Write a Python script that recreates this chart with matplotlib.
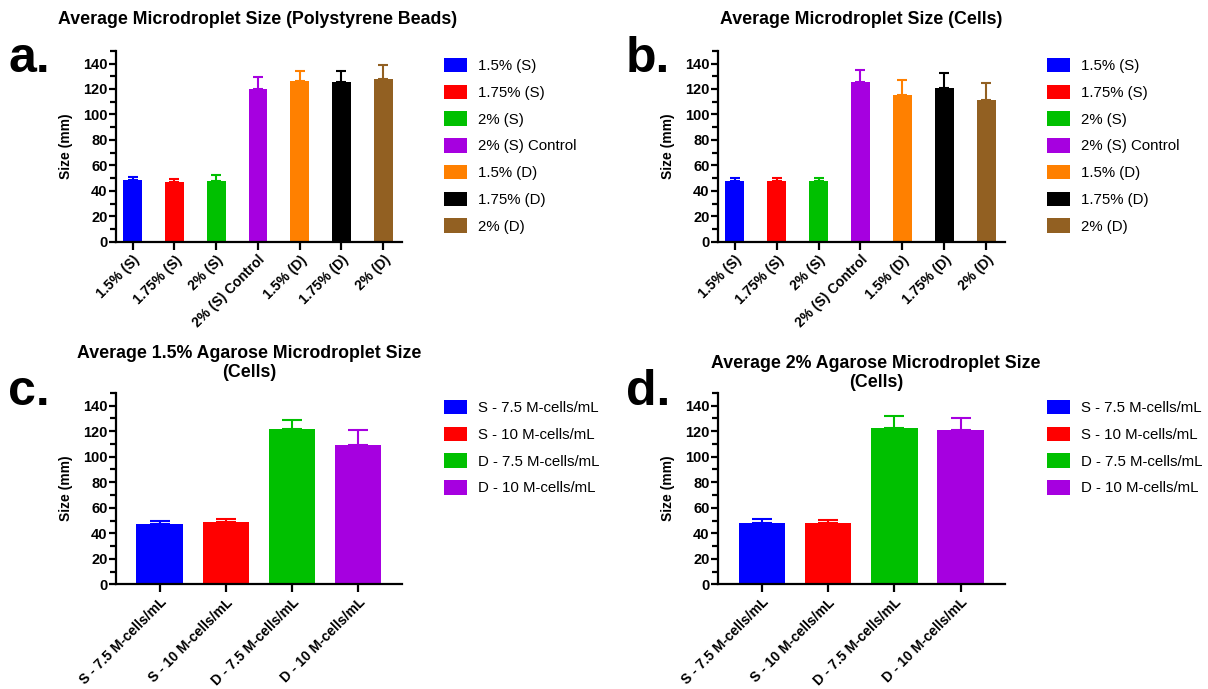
import matplotlib
matplotlib.use("Agg")
import matplotlib.pyplot as plt
from matplotlib.patches import Patch
from matplotlib.ticker import MultipleLocator

plt.rcParams['font.family'] = ['Liberation Sans', 'DejaVu Sans']

# panels a / b
labels_ab = ['1.5% (S)', '1.75% (S)', '2% (S)', '2% (S) Control',
             '1.5% (D)', '1.75% (D)', '2% (D)']
colors_ab = ['#0000FF', '#FF0000', '#00C000', '#A600E0',
             '#FF8000', '#000000', '#926022']
beads_mean = [48.5, 47.1, 48.0, 119.7, 126.0, 125.2, 127.8]
beads_err = [2.3, 2.2, 4.6, 9.9, 8.0, 9.1, 10.8]
cells_mean = [48.0, 47.7, 47.7, 125.7, 115.0, 120.5, 111.0]
cells_err = [2.3, 2.6, 2.6, 9.2, 12.0, 12.0, 14.0]

# panels c / d
labels_cd = ['S - 7.5 M-cells/mL', 'S - 10 M-cells/mL',
             'D - 7.5 M-cells/mL', 'D - 10 M-cells/mL']
colors_cd = ['#0000FF', '#FF0000', '#00C000', '#A600E0']
agarose15_mean = [47.5, 48.6, 121.7, 108.9]
agarose15_err = [2.1, 2.3, 7.1, 12.0]
agarose2_mean = [47.8, 48.3, 122.5, 120.9]
agarose2_err = [3.4, 2.1, 9.4, 9.5]

W, H = 1208, 689
fig = plt.figure(figsize=(W / 100, H / 100), dpi=100)


def px_axes(x0, x1, y0, ytop):
    return fig.add_axes([x0 / W, 1 - y0 / H, (x1 - x0) / W, (y0 - ytop) / H])


def draw_panel(ax, labels, means, errs, colors, width, capsize, xlim):
    for i, (m, e, c, lab) in enumerate(zip(means, errs, colors, labels)):
        ax.bar(i, m, width=width, color=c, label=lab, zorder=2)
        ax.errorbar(i, m, yerr=[[0], [e]], fmt='none', ecolor=c,
                    elinewidth=1.5, capsize=capsize, capthick=1.5, zorder=1)
    ax.set_xlim(*xlim)
    ax.set_ylim(0, 150)
    ax.yaxis.set_minor_locator(MultipleLocator(10))
    ax.set_yticks(range(0, 141, 20))
    ax.set_xticks(range(len(labels)))
    ax.set_xticklabels(labels, rotation=45, ha='right', va='top',
                       rotation_mode='anchor', fontweight='bold', fontsize=10)
    for t in ax.get_yticklabels():
        t.set_fontweight('bold')
        t.set_fontsize(10.5)
    for s in ['top', 'right']:
        ax.spines[s].set_visible(False)
    for s in ['left', 'bottom']:
        ax.spines[s].set_linewidth(1.6)
    ax.tick_params(which='major', direction='out', width=1.6, length=5, pad=1)
    ax.tick_params(which='minor', direction='out', width=1.6, length=4)
    ax.tick_params(axis='x', length=6, pad=2)
    ax.set_ylabel('Size (mm)', fontweight='bold', fontsize=10)
    ax.yaxis.set_label_coords(-0.15, 0.5)


def legend(labels, colors, x, ytop):
    handles = [Patch(facecolor=c, edgecolor='none') for c in colors]
    fig.legend(handles, labels, loc='upper left',
               bbox_to_anchor=(x / W, 1 - ytop / H), frameon=False,
               fontsize=10.8, handlelength=1.53, handleheight=1.1,
               handletextpad=0.73, labelspacing=0.76, borderpad=0,
               borderaxespad=0)


ax_a = px_axes(116, 402, 241.7, 50.8)
draw_panel(ax_a, labels_ab, beads_mean, beads_err, colors_ab, 0.45, 3.6, (-0.4, 6.45))
legend(labels_ab, colors_ab, 444, 58)

ax_b = px_axes(718, 1005, 241.7, 50.8)
draw_panel(ax_b, labels_ab, cells_mean, cells_err, colors_ab, 0.45, 3.6, (-0.4, 6.45))
legend(labels_ab, colors_ab, 1047, 58)

ax_c = px_axes(116, 402, 584.3, 392.9)
draw_panel(ax_c, labels_cd, agarose15_mean, agarose15_err, colors_cd, 0.70, 7.2, (-0.66, 3.67))
legend(labels_cd, colors_cd, 444, 400)

ax_d = px_axes(718, 1005, 584.3, 392.9)
draw_panel(ax_d, labels_cd, agarose2_mean, agarose2_err, colors_cd, 0.70, 7.2, (-0.66, 3.67))
legend(labels_cd, colors_cd, 1047, 400)

# titles
title_kw = dict(ha='center', va='center', fontweight='bold', fontsize=12.8,
                linespacing=1.2)
fig.text(258 / W, 1 - 20 / H, 'Average Microdroplet Size (Polystyrene Beads)', **title_kw)
fig.text(861 / W, 1 - 20 / H, 'Average Microdroplet Size (Cells)', **title_kw)
fig.text(249 / W, 1 - 363 / H, 'Average 1.5% Agarose Microdroplet Size\n(Cells)', **title_kw)
fig.text(876 / W, 1 - 373 / H, 'Average 2% Agarose Microdroplet Size\n(Cells)', **title_kw)

# panel letters
for letter, x, y in [('a.', 8, 72), ('b.', 626, 72), ('c.', 8, 405), ('d.', 626, 405)]:
    fig.text(x / W, 1 - y / H, letter, ha='left', va='baseline',
             fontweight='bold', fontsize=36)

fig.savefig('out.png', dpi=100)
